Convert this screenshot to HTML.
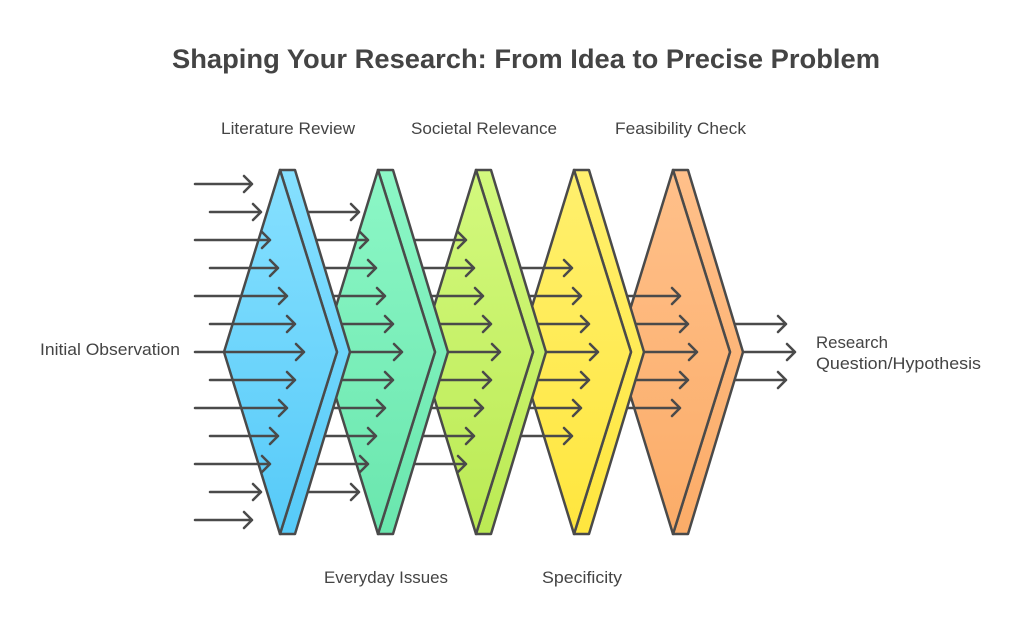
<!DOCTYPE html>
<html><head><meta charset="utf-8"><style>
html,body{margin:0;padding:0;background:#fff;}
svg{display:block;}
text{font-family:"Liberation Sans",sans-serif;fill:#444;}
</style></head><body>
<svg width="1024" height="620" viewBox="0 0 1024 620" xmlns="http://www.w3.org/2000/svg">
<defs>
<linearGradient id="g0" x1="0" y1="0" x2="0" y2="1"><stop offset="0" stop-color="#86E0FF"/><stop offset="1" stop-color="#56CAF8"/></linearGradient>
<linearGradient id="g1" x1="0" y1="0" x2="0" y2="1"><stop offset="0" stop-color="#8CF7C6"/><stop offset="1" stop-color="#6AE6AE"/></linearGradient>
<linearGradient id="g2" x1="0" y1="0" x2="0" y2="1"><stop offset="0" stop-color="#D3F97E"/><stop offset="1" stop-color="#BBEA54"/></linearGradient>
<linearGradient id="g3" x1="0" y1="0" x2="0" y2="1"><stop offset="0" stop-color="#FFF06E"/><stop offset="1" stop-color="#FFE63E"/></linearGradient>
<linearGradient id="g4" x1="0" y1="0" x2="0" y2="1"><stop offset="0" stop-color="#FFC08A"/><stop offset="1" stop-color="#FBAC68"/></linearGradient>
</defs>
<text x="526" y="68" text-anchor="middle" font-size="27" font-weight="bold" textLength="708" lengthAdjust="spacingAndGlyphs">Shaping Your Research: From Idea to Precise Problem</text>

<g stroke="#4a4a4a" stroke-width="2.5" fill="none" stroke-linecap="round" stroke-linejoin="round">
<path d="M700 324H786M778 316L786 324L778 332 M700 352H795M787 344L795 352L787 360 M700 380H786M778 372L786 380L778 388"/>
</g>
<g stroke="#4a4a4a" stroke-width="2.5" stroke-linejoin="round" fill="url(#g4)">
<polygon points="673,170 688,170 743,352 688,534 673,534 730,352"/>
<polygon points="673,170 617,352 673,534 730,352"/>
</g>
<g stroke="#4a4a4a" stroke-width="2.5" fill="none" stroke-linecap="round" stroke-linejoin="round">
<path d="M585 296H680M672 288L680 296L672 304 M585 324H688M680 316L688 324L680 332 M585 352H697M689 344L697 352L689 360 M585 380H688M680 372L688 380L680 388 M585 408H680M672 400L680 408L672 416"/>
</g>
<g stroke="#4a4a4a" stroke-width="2.5" stroke-linejoin="round" fill="url(#g3)">
<polygon points="574,170 589,170 644,352 589,534 574,534 631,352"/>
<polygon points="574,170 518,352 574,534 631,352"/>
</g>
<g stroke="#4a4a4a" stroke-width="2.5" fill="none" stroke-linecap="round" stroke-linejoin="round">
<path d="M486 268H572M564 260L572 268L564 276 M486 296H581M573 288L581 296L573 304 M486 324H589M581 316L589 324L581 332 M486 352H598M590 344L598 352L590 360 M486 380H589M581 372L589 380L581 388 M486 408H581M573 400L581 408L573 416 M486 436H572M564 428L572 436L564 444"/>
</g>
<g stroke="#4a4a4a" stroke-width="2.5" stroke-linejoin="round" fill="url(#g2)">
<polygon points="476,170 491,170 546,352 491,534 476,534 533,352"/>
<polygon points="476,170 420,352 476,534 533,352"/>
</g>
<g stroke="#4a4a4a" stroke-width="2.5" fill="none" stroke-linecap="round" stroke-linejoin="round">
<path d="M388 240H466M458 232L466 240L458 248 M388 268H474M466 260L474 268L466 276 M388 296H483M475 288L483 296L475 304 M388 324H491M483 316L491 324L483 332 M388 352H500M492 344L500 352L492 360 M388 380H491M483 372L491 380L483 388 M388 408H483M475 400L483 408L475 416 M388 436H474M466 428L474 436L466 444 M388 464H466M458 456L466 464L458 472"/>
</g>
<g stroke="#4a4a4a" stroke-width="2.5" stroke-linejoin="round" fill="url(#g1)">
<polygon points="378,170 393,170 448,352 393,534 378,534 435,352"/>
<polygon points="378,170 322,352 378,534 435,352"/>
</g>
<g stroke="#4a4a4a" stroke-width="2.5" fill="none" stroke-linecap="round" stroke-linejoin="round">
<path d="M290 212H359M351 204L359 212L351 220 M290 240H368M360 232L368 240L360 248 M290 268H376M368 260L376 268L368 276 M290 296H385M377 288L385 296L377 304 M290 324H393M385 316L393 324L385 332 M290 352H402M394 344L402 352L394 360 M290 380H393M385 372L393 380L385 388 M290 408H385M377 400L385 408L377 416 M290 436H376M368 428L376 436L368 444 M290 464H368M360 456L368 464L360 472 M290 492H359M351 484L359 492L351 500"/>
</g>
<g stroke="#4a4a4a" stroke-width="2.5" stroke-linejoin="round" fill="url(#g0)">
<polygon points="280,170 295,170 350,352 295,534 280,534 337,352"/>
<polygon points="280,170 224,352 280,534 337,352"/>
</g>
<g stroke="#4a4a4a" stroke-width="2.5" fill="none" stroke-linecap="round" stroke-linejoin="round">
<path d="M195 184H252M244 176L252 184L244 192 M210 212H261M253 204L261 212L253 220 M195 240H270M262 232L270 240L262 248 M210 268H278M270 260L278 268L270 276 M195 296H287M279 288L287 296L279 304 M210 324H295M287 316L295 324L287 332 M195 352H304M296 344L304 352L296 360 M210 380H295M287 372L295 380L287 388 M195 408H287M279 400L287 408L279 416 M210 436H278M270 428L278 436L270 444 M195 464H270M262 456L270 464L262 472 M210 492H261M253 484L261 492L253 500 M195 520H252M244 512L252 520L244 528"/>
</g>

<g font-size="16.5">
<text x="221" y="134" textLength="134" lengthAdjust="spacingAndGlyphs">Literature Review</text>
<text x="411" y="134" textLength="146" lengthAdjust="spacingAndGlyphs">Societal Relevance</text>
<text x="615" y="134" textLength="131" lengthAdjust="spacingAndGlyphs">Feasibility Check</text>
<text x="324" y="583" textLength="124" lengthAdjust="spacingAndGlyphs">Everyday Issues</text>
<text x="542" y="583" textLength="80" lengthAdjust="spacingAndGlyphs">Specificity</text>
<text x="40" y="355" textLength="140" lengthAdjust="spacingAndGlyphs">Initial Observation</text>
<text x="816" y="348" textLength="72" lengthAdjust="spacingAndGlyphs">Research</text>
<text x="816" y="369" textLength="165" lengthAdjust="spacingAndGlyphs">Question/Hypothesis</text>
</g>
</svg>
</body></html>
